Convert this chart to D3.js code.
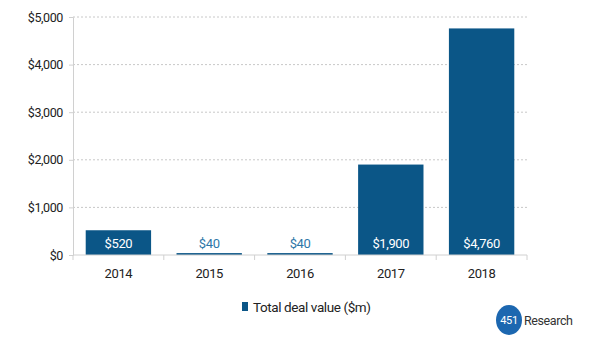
<!DOCTYPE html>
<html>
<head>
<meta charset="utf-8">
<script src="https://cdn.jsdelivr.net/npm/d3@7"></script>
<style>
  body { margin: 0; background: #fff; }
  svg text { font-family: Roboto, "Open Sans", sans-serif; letter-spacing: -0.4px; }
</style>
</head>
<body>
<div id="chart"></div>
<script>
const years = ['2014', '2015', '2016', '2017', '2018']
const dealValues = [520, 40, 40, 1900, 4760]
const yTicks = [0, 1000, 2000, 3000, 4000, 5000]
const seriesName = 'Total deal value ($m)'

const W = 600, H = 340
const margin = { top: 17, right: 73, bottom: 85, left: 73 }
const width = W - margin.left - margin.right
const height = H - margin.top - margin.bottom
const barColor = '#0b5687'

const svgEl = d3.select('#chart').append('svg')
  .attr('width', W)
  .attr('height', H)

const g = svgEl.append('g')
  .attr('transform', `translate(${margin.left}, ${margin.top})`)

const x = d3.scaleBand()
  .domain(years)
  .range([0, width])
  .paddingInner(0.28)
  .paddingOuter(0.14)

const y = d3.scaleLinear()
  .domain([0, 5000])
  .range([height, 0])

// dotted gridlines
g.append('g')
  .selectAll('line')
  .data(yTicks.filter(d => d > 0))
  .enter()
  .append('line')
  .attr('x1', 0)
  .attr('x2', width)
  .attr('y1', d => y(d))
  .attr('y2', d => y(d))
  .attr('stroke', '#c8c8c8')
  .attr('stroke-width', 1)
  .attr('stroke-dasharray', '2,2')

// y axis
const yAxis = d3.axisLeft(y)
  .tickValues(yTicks)
  .tickSize(4)
  .tickPadding(6)
  .tickFormat(d => '$' + d3.format(',')(d))

const yG = g.append('g').call(yAxis)
yG.select('.domain').attr('stroke', '#d0d0d0')
yG.selectAll('.tick line').attr('stroke', '#d0d0d0')
yG.selectAll('text').attr('font-size', '12.5px').attr('fill', '#222')

// bars
g.selectAll('rect.bar')
  .data(years)
  .enter()
  .append('rect')
  .attr('class', 'bar')
  .attr('x', d => x(d))
  .attr('y', (d, i) => y(dealValues[i]))
  .attr('width', x.bandwidth())
  .attr('height', (d, i) => height - y(dealValues[i]))
  .attr('fill', barColor)

// value labels
g.selectAll('text.val')
  .data(years)
  .enter()
  .append('text')
  .attr('class', 'val')
  .attr('x', d => x(d) + x.bandwidth() / 2)
  .attr('y', height - 7)
  .attr('text-anchor', 'middle')
  .attr('font-size', '13px')
  .attr('fill', (d, i) => dealValues[i] > 300 ? '#fff' : '#2e77a8')
  .text((d, i) => '$' + d3.format(',')(dealValues[i]))

// x axis, ticks between categories
const xAxisG = g.append('g')
  .attr('transform', `translate(0, ${height})`)
xAxisG.append('line')
  .attr('x1', 0).attr('x2', width)
  .attr('stroke', '#d0d0d0')
const step = x.step()
const edges = d3.range(years.length + 1).map(i => x(years[0]) - x.paddingInner() * step / 2 + i * step)
xAxisG.selectAll('line.tk')
  .data(edges)
  .enter()
  .append('line')
  .attr('class', 'tk')
  .attr('x1', d => d).attr('x2', d => d)
  .attr('y1', 0).attr('y2', 5)
  .attr('stroke', '#d0d0d0')
xAxisG.selectAll('text')
  .data(years)
  .enter()
  .append('text')
  .attr('x', d => x(d) + x.bandwidth() / 2)
  .attr('y', 23)
  .attr('text-anchor', 'middle')
  .attr('font-size', '13px')
  .attr('fill', '#222')
  .text(d => d)

// legend
const legend = svgEl.append('g')
  .attr('transform', 'translate(242, 302)')
legend.append('rect')
  .attr('width', 6).attr('height', 9)
  .attr('fill', barColor)
legend.append('text')
  .attr('x', 11).attr('y', 9.5)
  .attr('font-size', '13.5px')
  .attr('fill', '#222')
  .text(seriesName)

// 451 Research logo
const logo = svgEl.append('g')
  .attr('transform', 'translate(509, 320)')
logo.append('ellipse')
  .attr('rx', 13).attr('ry', 15)
  .attr('fill', '#1c67b0')
logo.append('text')
  .attr('y', 4)
  .attr('text-anchor', 'middle')
  .attr('font-size', '11px')
  .attr('fill', '#fff')
  .text('451')
logo.append('text')
  .attr('x', 15).attr('y', 5)
  .attr('font-size', '12.5px')
  .attr('fill', '#333')
  .text('Research')
</script>
</body>
</html>
